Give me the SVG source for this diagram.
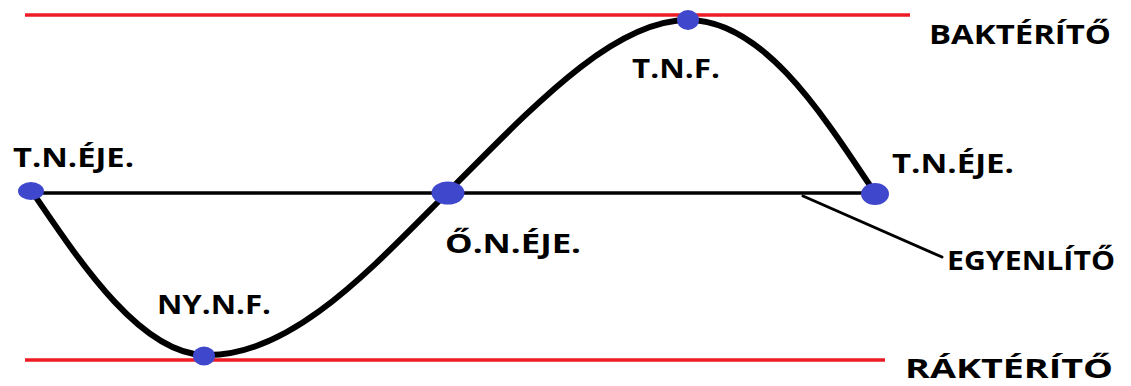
<svg xmlns="http://www.w3.org/2000/svg" width="1131" height="386" viewBox="0 0 1131 386">
<style>
.red{stroke:#ed1c24;stroke-width:3.5;fill:none}
.blk{stroke:#000;fill:none;stroke-linecap:round}
.dot{fill:#3f48cc}
text{font-family:"Open Sans","Liberation Sans",sans-serif;font-weight:bold;font-size:27px;fill:#000}
</style>
<rect width="1131" height="386" fill="#fff"/>
<g id="tropics">
<line class="red" x1="25" y1="15" x2="910" y2="15"/>
<line class="red" x1="25" y1="360" x2="885" y2="360"/>
</g>
<g id="connectors">
<line class="blk" x1="33" y1="193" x2="875" y2="193" stroke-width="3.5"/>
<line class="blk" x1="803" y1="196" x2="942" y2="257" stroke-width="3"/>
<path class="blk" stroke-width="6" d="M33,193 C80,262 140,353 204,355 C290,358 370,270 447,193 C530,110 612,20 688,20 C762,20 820,110 875,193"/>
</g>
<g id="node-tneje-left"><ellipse class="dot" cx="31" cy="191" rx="13" ry="9"/><text x="13" y="167" textLength="121" lengthAdjust="spacingAndGlyphs">T.N.ÉJE.</text></g>
<g id="node-nynf"><ellipse class="dot" cx="204" cy="356" rx="11" ry="9.5"/><text x="157" y="314" textLength="114" lengthAdjust="spacingAndGlyphs">NY.N.F.</text></g>
<g id="node-oneje"><ellipse class="dot" cx="448" cy="193" rx="16.5" ry="11.5"/><text x="445" y="253" textLength="136" lengthAdjust="spacingAndGlyphs">Ő.N.ÉJE.</text></g>
<g id="node-tnf"><ellipse class="dot" cx="688" cy="20" rx="11" ry="10"/><text x="632" y="78" textLength="88" lengthAdjust="spacingAndGlyphs">T.N.F.</text></g>
<g id="node-tneje-right"><ellipse class="dot" cx="875" cy="194" rx="14" ry="11"/><text x="892" y="173" textLength="122" lengthAdjust="spacingAndGlyphs">T.N.ÉJE.</text></g>
<g id="label-bakterito"><text x="929" y="44" textLength="182" lengthAdjust="spacingAndGlyphs">BAKTÉRÍTŐ</text></g>
<g id="label-egyenlito"><text x="947" y="270" textLength="168" lengthAdjust="spacingAndGlyphs">EGYENLÍTŐ</text></g>
<g id="label-rakterito"><text x="905" y="378" font-size="25" textLength="208" lengthAdjust="spacingAndGlyphs">RÁKTÉRÍTŐ</text></g>
</svg>
